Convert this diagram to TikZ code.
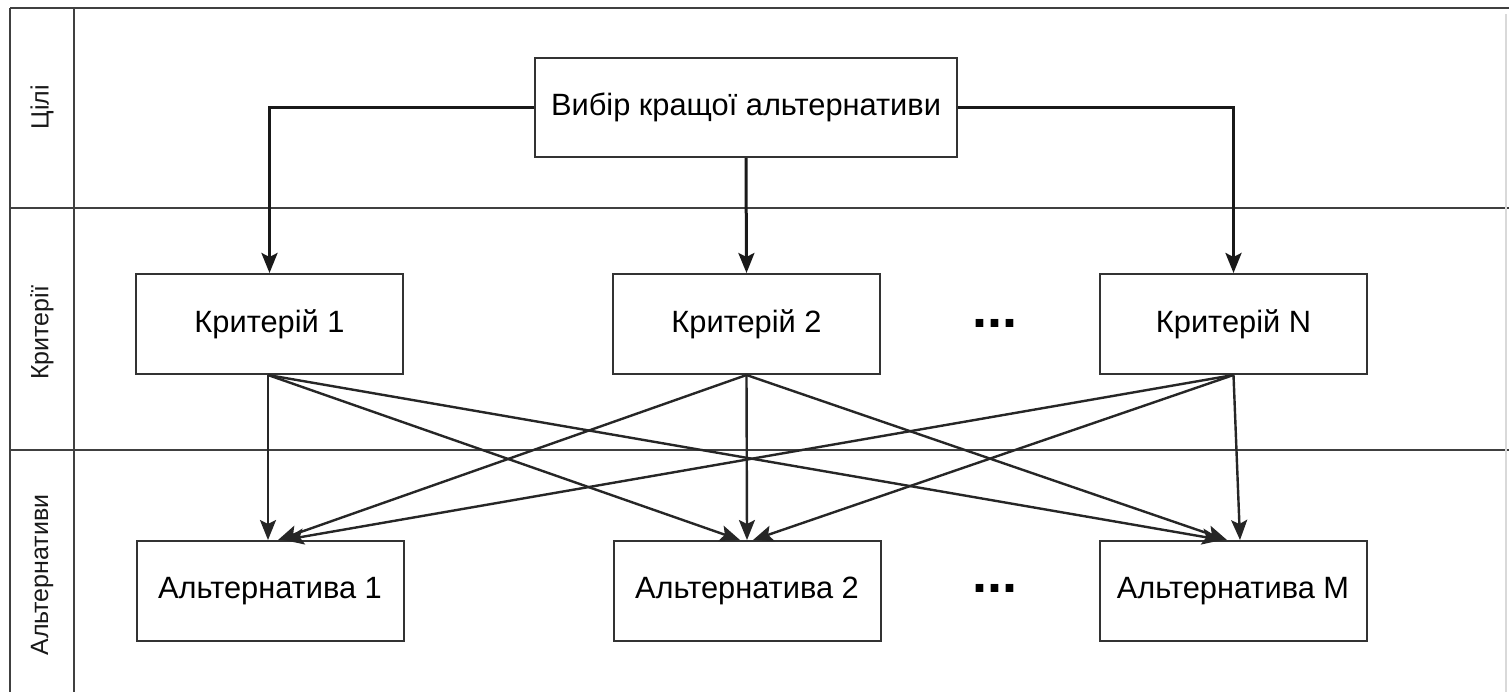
\documentclass[tikz,border=0pt]{standalone}
\usepackage{fontspec}
\setmainfont{Liberation Sans}
\usetikzlibrary{arrows.meta}
\begin{document}
\begin{tikzpicture}[x=0.5pt,y=-0.5pt,
  frame/.style={draw=black!75,line width=1pt},
  box/.style={draw=black!80,fill=white,line width=1pt,minimum width=133.5pt,minimum height=50pt,inner sep=0pt,font=\fontsize{15.4}{18}\selectfont},
  lane/.style={rotate=90,font=\fontsize{12.5}{15}\selectfont,text=black!90},
  toparrow/.style={line width=1.5pt,draw=black!90,-{Stealth[length=10pt,width=8pt,inset=2pt]}},
  arr/.style={line width=1.2pt,draw=black!85,-{Stealth[length=10pt,width=8pt,inset=2pt]}},
  dots/.style={font=\bfseries\fontsize{27}{27}\selectfont}
]
\useasboundingbox (0,0) rectangle (1509,692);
\fill[white] (0,0) rectangle (1509,692);
% frame
\draw[frame,line width=1.3pt] (10,8) -- (1509,8);
\draw[frame] (10,8) -- (10,692);
\draw[frame] (74,8) -- (74,692);
\draw[frame] (10,208) -- (1509,208);
\draw[frame] (10,450) -- (1509,450);
\draw[draw=black!15,line width=0.6pt] (1506,14) -- (1506,692);
% lane labels
\node[lane] (l1) at (42,107) {Цілі};
\node[lane] (l2) at (42,333) {Критерії};
\node[lane] (l3) at (42,575) {Альтернативи};
% nodes
\node[box,minimum width=211pt,minimum height=49.5pt] (top) at (746,107.5) {Вибір кращої альтернативи};
\node[box] (c1) at (269.5,324) {Критерій 1};
\node[box] (c2) at (746.5,324) {Критерій 2};
\node[box] (cn) at (1233.5,324) {Критерій N};
\node[box] (a1) at (270,591) {Альтернатива 1};
\node[box] (a2) at (747,591) {Альтернатива 2};
\node[box] (am) at (1233,591) {Альтернатива M};
\node[dots] (d1) at (995,323) {...};
\node[dots] (d2) at (995,588) {...};
% top arrows
\draw[toparrow] (top.west) -| (c1.north);
\draw[toparrow] (top.south) -- (c2.north);
\draw[toparrow] (top.east) -| (cn.north);
% criteria -> alternatives
\draw[arr] ([xshift=-0.75pt]c1.south) -- ([xshift=-1pt]a1.north);
\draw[arr] ([xshift=-0.75pt]c1.south) -- ([xshift=-3.5pt]a2.north);
\draw[arr] ([xshift=-0.75pt]c1.south) -- ([xshift=-5.5pt]am.north);
\draw[arr] (c2.south) -- ([xshift=4pt]a1.north);
\draw[arr] (c2.south) -- (a2.north);
\draw[arr] (c2.south) -- ([xshift=-3pt]am.north);
\draw[arr] (cn.south) -- ([xshift=7pt]a1.north);
\draw[arr] (cn.south) -- ([xshift=3pt]a2.north);
\draw[arr] (cn.south) -- ([xshift=3.5pt]am.north);
\end{tikzpicture}
\end{document}
